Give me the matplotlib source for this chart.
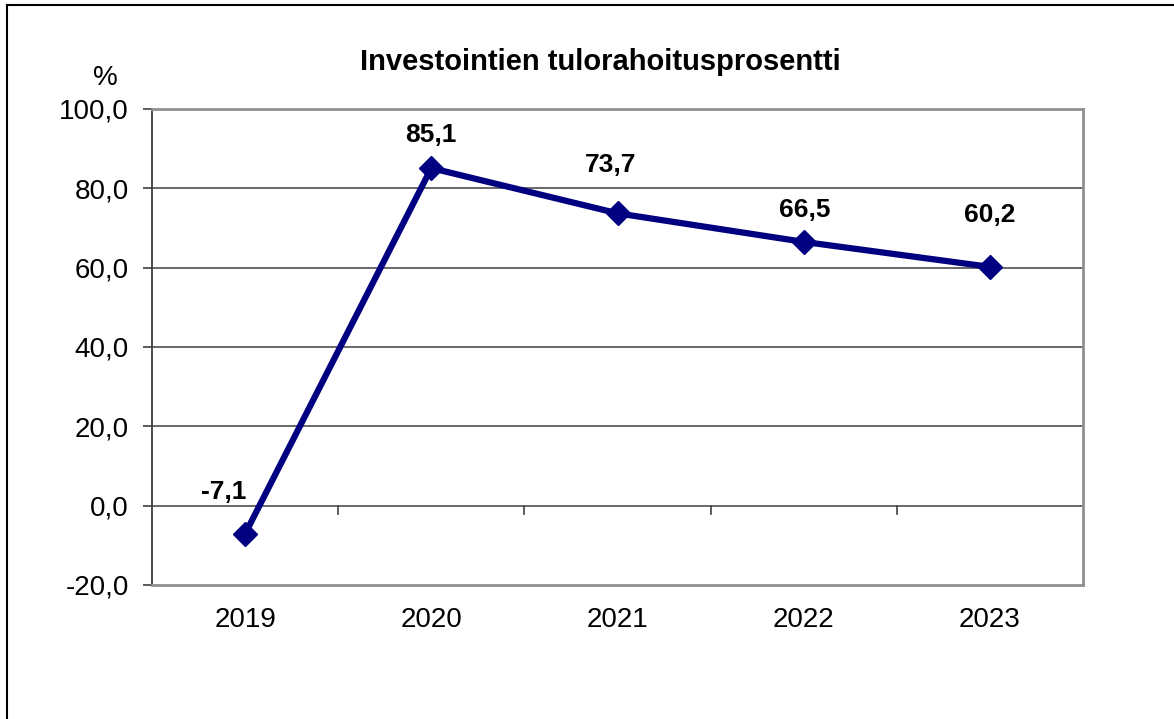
import matplotlib.pyplot as plt
from matplotlib.lines import Line2D

# 数据
years = ['2019', '2020', '2021', '2022', '2023']
values = [-7.1, 85.1, 73.7, 66.5, 60.2]
y_ticks = [-20, 0, 20, 40, 60, 80, 100]

# 标签偏移 (像素, x/y)
label_offsets = [(-21, 42), (0, 33), (-7, 48), (1, 32), (0, 52)]

plt.rcParams['font.family'] = ['Liberation Sans', 'DejaVu Sans']

fig = plt.figure(figsize=(11.74, 7.19), dpi=100)
W, H = 1174, 719
ax = fig.add_axes([152 / W, 1 - 585 / H, (1083 - 152) / W, (585 - 109) / H])

x = list(range(len(years)))
ax.plot(x, values, color='#000080', linewidth=4.5, marker='D', markersize=12.5,
        zorder=5, clip_on=False)

for xi, v, (dx, dy) in zip(x, values, label_offsets):
    ax.annotate(f"{v:.1f}".replace('.', ','), (xi, v), xytext=(dx * 0.72, dy * 0.72),
                textcoords='offset points', ha='center', va='center',
                fontsize=19, fontweight='bold', color='black')

ax.set_xlim(-0.5, 4.5)
ax.set_ylim(-20, 100)
ax.set_yticks(y_ticks)
ax.set_yticklabels([f"{t:.1f}".replace('.', ',') for t in y_ticks], fontsize=20)
ax.set_xticks(x)
ax.set_xticklabels(years, fontsize=20)
ax.tick_params(axis='x', length=0, pad=16)
ax.tick_params(axis='y', direction='out', length=6.5, width=1.2, color='#404040', pad=10)

# 网格线
for t in y_ticks[1:]:
    ax.axhline(t, color='#404040', linewidth=1.1, zorder=1)

# 边框
for side in ['top', 'right', 'bottom']:
    ax.spines[side].set_color('#909090')
    ax.spines[side].set_linewidth(2)
ax.spines['left'].set_color('#404040')
ax.spines['left'].set_linewidth(1.3)

# 0 线上的分类刻度
for b in [0.5, 1.5, 2.5, 3.5]:
    ax.plot([b, b], [0, -2], color='#404040', linewidth=1.2, zorder=2)

fig.text(600 / W, 1 - 62 / H, 'Investointien tulorahoitusprosentti', fontsize=21,
         fontweight='bold', ha='center', va='center')
fig.text(105 / W, 1 - 78 / H, '%', fontsize=20, ha='center', va='center')

# 外框 (左、上)
fig.add_artist(Line2D([7 / W, 7 / W], [0, 1 - 5 / H], color='black', linewidth=1.5,
                      transform=fig.transFigure))
fig.add_artist(Line2D([7 / W, 1], [1 - 5 / H, 1 - 5 / H], color='black', linewidth=1.5,
                      transform=fig.transFigure))

fig.savefig('out.png', dpi=100)
